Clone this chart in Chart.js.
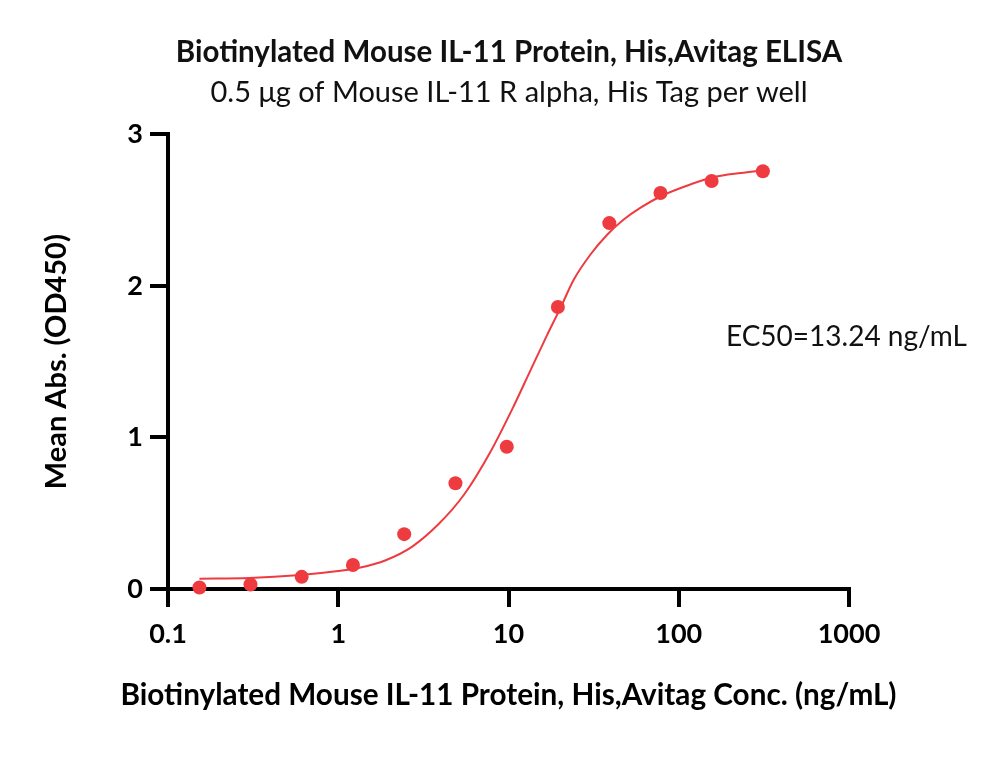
<!DOCTYPE html>
<html>
<head>
<meta charset="utf-8">
<script src="https://cdn.jsdelivr.net/npm/chart.js@4.4.1/dist/chart.umd.min.js"></script>
<style>
  html, body { margin: 0; padding: 0; background: #fff; }
  #wrap { width: 1000px; height: 783px; }
</style>
</head>
<body>
<div id="wrap"><canvas id="elisaChart"></canvas></div>
<script>
// Measured points (concentration in ng/mL, OD450)
const concValues = [0.153, 0.305, 0.61, 1.22, 2.44, 4.88, 9.77, 19.5, 39.1, 78.1, 156, 312];
const odValues = [0.01, 0.03, 0.08, 0.158, 0.362, 0.698, 0.939, 1.861, 2.414, 2.613, 2.692, 2.756];

// Fitted curve
const curveConc = [0.153, 0.3, 0.6, 1.0, 1.33, 1.9, 2.72, 3.9, 5.46, 7.84, 10.7, 13.5, 16.9, 20.3, 24.2, 30.3, 38.1, 47.7, 59.7, 79, 117.7, 161, 232, 312];
const curveOd = [0.068, 0.072, 0.092, 0.118, 0.14, 0.19, 0.28, 0.43, 0.62, 0.906, 1.204, 1.446, 1.678, 1.86, 2.042, 2.207, 2.339, 2.439, 2.516, 2.593, 2.67, 2.718, 2.745, 2.762];

// Axis ticks
const xTicks = [0.1, 1, 10, 100, 1000];
const xTickLabels = ['0.1', '1', '10', '100', '1000'];
const yTicks = [0, 1, 2, 3];

const chartTitle = 'Biotinylated Mouse IL-11 Protein, His,Avitag ELISA';
const chartSubtitle = '0.5 \u03bcg of Mouse IL-11 R alpha, His Tag per well';
const xTitle = 'Biotinylated Mouse IL-11 Protein, His,Avitag Conc. (ng/mL)';
const yTitle = 'Mean Abs. (OD450)';
const ec50Text = 'EC50=13.24 ng/mL';

const red = '#EE3B40';
const FONT = 'Lato';

// EC50 note and the x axis title (the scale title would squeeze it to the axis width)
const extraText = {
  id: 'extraText',
  afterDatasetsDraw(chart) {
    const {ctx, chartArea} = chart;
    ctx.save();
    ctx.font = '28px ' + FONT;
    ctx.fillStyle = '#111';
    ctx.textAlign = 'right';
    ctx.textBaseline = 'middle';
    ctx.fillText(ec50Text, chartArea.right + 118, chartArea.top + 203);

    ctx.font = 'bold 29.7px ' + FONT;
    ctx.fillStyle = '#000';
    ctx.textAlign = 'center';
    ctx.fillText(xTitle, (chartArea.left + chartArea.right) / 2, chartArea.bottom + 106);
    ctx.restore();
  }
};

const ctx = document.getElementById('elisaChart').getContext('2d');
const elisaChart = new Chart(ctx, {
  type: 'line',
  data: {
    datasets: [{
      label: 'points',
      data: concValues.map((c, i) => ({x: c, y: odValues[i]})),
      showLine: false,
      pointRadius: 7,
      pointBackgroundColor: red,
      pointBorderWidth: 0,
      clip: false
    }, {
      label: 'fit',
      data: curveConc.map((c, i) => ({x: c, y: curveOd[i]})),
      borderColor: red,
      borderWidth: 2,
      pointRadius: 0,
      cubicInterpolationMode: 'monotone',
      fill: false
    }]
  },
  options: {
    responsive: true,
    maintainAspectRatio: false,
    animation: false,
    layout: { padding: { left: 18, right: 0, top: 0, bottom: 0 } },
    plugins: {
      legend: { display: false },
      tooltip: { enabled: false },
      title: {
        display: true,
        text: chartTitle,
        color: '#111',
        font: { family: FONT, size: 29.5, weight: 'bold' },
        padding: { top: 34.3, bottom: 0 }
      },
      subtitle: {
        display: true,
        text: chartSubtitle,
        color: '#111',
        font: { family: FONT, size: 29 },
        padding: { top: 5.2, bottom: 24.6 }
      }
    },
    scales: {
      x: {
        type: 'logarithmic',
        min: 0.1,
        max: 1000,
        afterBuildTicks: scale => { scale.ticks = xTicks.map(v => ({value: v})); },
        afterFit: scale => { scale.height = 194; },
        ticks: {
          color: '#000',
          font: { family: FONT, size: 27, weight: 'bold' },
          padding: 11,
          maxRotation: 0,
          callback: (value) => xTickLabels[xTicks.indexOf(value)]
        },
        grid: { display: true, drawOnChartArea: false, drawTicks: true, tickLength: 18, lineWidth: 4, color: '#000' },
        border: { display: true, width: 4, color: '#000' }
      },
      y: {
        type: 'linear',
        min: 0,
        max: 3,
        afterBuildTicks: scale => { scale.ticks = yTicks.map(v => ({value: v})); },
        afterFit: scale => { scale.width = 150; },
        ticks: {
          color: '#000',
          font: { family: FONT, size: 27, weight: 'bold' },
          padding: 7
        },
        grid: { display: true, drawOnChartArea: false, drawTicks: true, tickLength: 18, lineWidth: 4, color: '#000' },
        border: { display: true, width: 4, color: '#000' },
        title: {
          display: true,
          text: yTitle,
          color: '#000',
          font: { family: FONT, size: 29, weight: 'bold' },
          padding: { top: 21.6, bottom: 0 }
        }
      },
      // empty right-hand box that keeps the plot area at the reference width
      yRight: {
        type: 'linear',
        position: 'right',
        display: true,
        grid: { display: false },
        border: { display: false },
        ticks: { display: false },
        afterFit: scale => { scale.width = 151; }
      }
    }
  },
  plugins: [extraText]
});
</script>
</body>
</html>
